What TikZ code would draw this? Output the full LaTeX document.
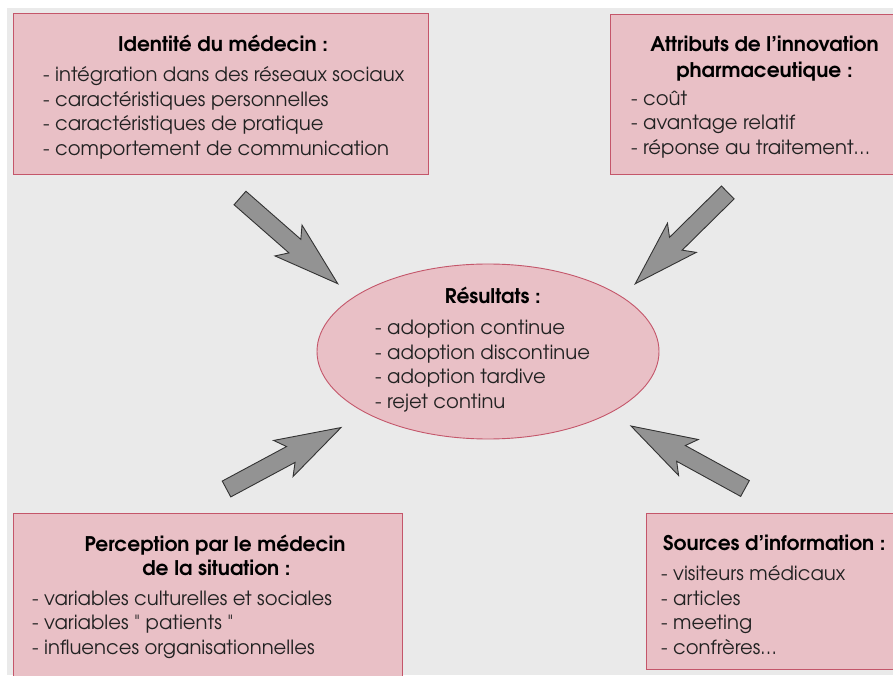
\documentclass[tikz,border=0pt]{standalone}
\usepackage{fontspec}
\setmainfont{texgyreadventor}[Extension=.otf, UprightFont=*-regular, BoldFont=*-bold]
\newfontfamily\plainadv{texgyreadventor}[Extension=.otf, UprightFont=*-regular]
\usetikzlibrary{calc,shapes.geometric}
\definecolor{bgcol}{HTML}{EAEAEA}
\definecolor{pinkfill}{HTML}{E9C0C6}
\definecolor{pinkline}{HTML}{C4566A}
\definecolor{arrowfill}{HTML}{939393}
\definecolor{arrowline}{HTML}{333333}
\definecolor{itemtext}{HTML}{222222}
\tikzset{
  x=1pt, y=1pt,
  infobox/.style={draw=pinkline, fill=pinkfill, line width=1.2pt, inner sep=0pt, anchor=south west},
  resultell/.style={ellipse, draw=pinkline, fill=pinkfill, line width=0.9pt, inner sep=0pt},
  itemtxt/.style={font=\fontsize{19.6}{22}\selectfont, text=itemtext, inner sep=0pt, anchor=base west},
  titletxt/.style={font=\fontsize{20.2}{22}\selectfont\bfseries, text=black, inner sep=0pt, anchor=base},
  blockarrowstyle/.style={fill=arrowfill, draw=arrowline, line width=0.9pt, line join=miter}
}
\newcommand{\blockarrow}[2]{%
  \path let \p1=($(#2)-(#1)$), \n1={atan2(\y1,\x1)} in \pgfextra{\xdef\arrang{\n1}};
  \begin{scope}[shift={(#1)}, rotate=\arrang]
    \draw[blockarrowstyle] (0,9) -- (73,9) -- (64.5,20.5) -- (130,0) -- (64.5,-20.5) -- (73,-9) -- (0,-9) -- cycle;
  \end{scope}}
\newcommand{\sq}{{\plainadv "}}
\begin{document}
\begin{tikzpicture}
\useasboundingbox (0,0) rectangle (893,675);
\clip (0,0) rectangle (893,675);
\fill[white] (0,0) rectangle (893,675);
\fill[bgcol] (7,0) rectangle (893,667);

% boxes
\node[infobox, minimum width=415, minimum height=161] (ident) at (13,500) {};
\node[infobox, minimum width=295, minimum height=160] (attr) at (610,500) {};
\node[infobox, minimum width=389, minimum height=171] (perc) at (13,-10) {};
\node[infobox, minimum width=259, minimum height=156] (src) at (646,5) {};
\node[resultell, minimum width=342, minimum height=175] (res) at (488,323.5) {};

% arrows
\coordinate (a1tail) at (240,477);   \coordinate (a1tip) at (337.3,391.7);
\coordinate (a2tail) at (727.8,482.5); \coordinate (a2tip) at (635,391);
\coordinate (a3tail) at (226.5,186); \coordinate (a3tip) at (342,248);
\coordinate (a4tail) at (745,186.5); \coordinate (a4tip) at (631,249);
\blockarrow{a1tail}{a1tip}
\blockarrow{a2tail}{a2tip}
\blockarrow{a3tail}{a3tip}
\blockarrow{a4tail}{a4tip}

% Identite
\node[titletxt] (identT) at (223,623.3) {Identité du médecin :};
\foreach \t [count=\i from 0] in {{- intégration dans des réseaux sociaux},{- caractéristiques personnelles},{- caractéristiques de pratique},{- comportement de communication}}
  \node[itemtxt] (identI\i) at (43,593.3-24.45*\i) {\t};

% Attributs
\node[titletxt] (attrT1) at (764.5,623.3) {Attributs de l’innovation};
\node[titletxt] (attrT2) at (764.5,597.5) {pharmaceutique :};
\foreach \t [count=\i from 0] in {{- coût},{- avantage relatif},{- réponse au traitement…}}
  \node[itemtxt] (attrI\i) at (631,569.5-24.5*\i) {\t};

% Resultats
\node[titletxt] (resT) at (492.8,371.7) {Résultats :};
\foreach \t [count=\i from 0] in {{- adoption continue},{- adoption discontinue},{- adoption tardive},{- rejet continu}}
  \node[itemtxt] (resI\i) at (375,340-24.35*\i) {\t};

% Perception
\node[titletxt] (percT1) at (215,123.3) {Perception par le médecin};
\node[titletxt] (percT2) at (216.5,99.3) {de la situation :};
\foreach \t [count=\i from 0] in {{- variables culturelles et sociales},{- variables \sq\ patients \sq},{- influences organisationnelles}}
  \node[itemtxt] (percI\i) at (32,70-24.5*\i) {\t};

% Sources
\node[titletxt, anchor=base west] (srcT) at (663,124.3) {Sources d’information :};
\foreach \t [count=\i from 0] in {{- visiteurs médicaux},{- articles},{- meeting},{- confrères…}}
  \node[itemtxt] (srcI\i) at (661,94.3-24.45*\i) {\t};
\end{tikzpicture}
\end{document}
